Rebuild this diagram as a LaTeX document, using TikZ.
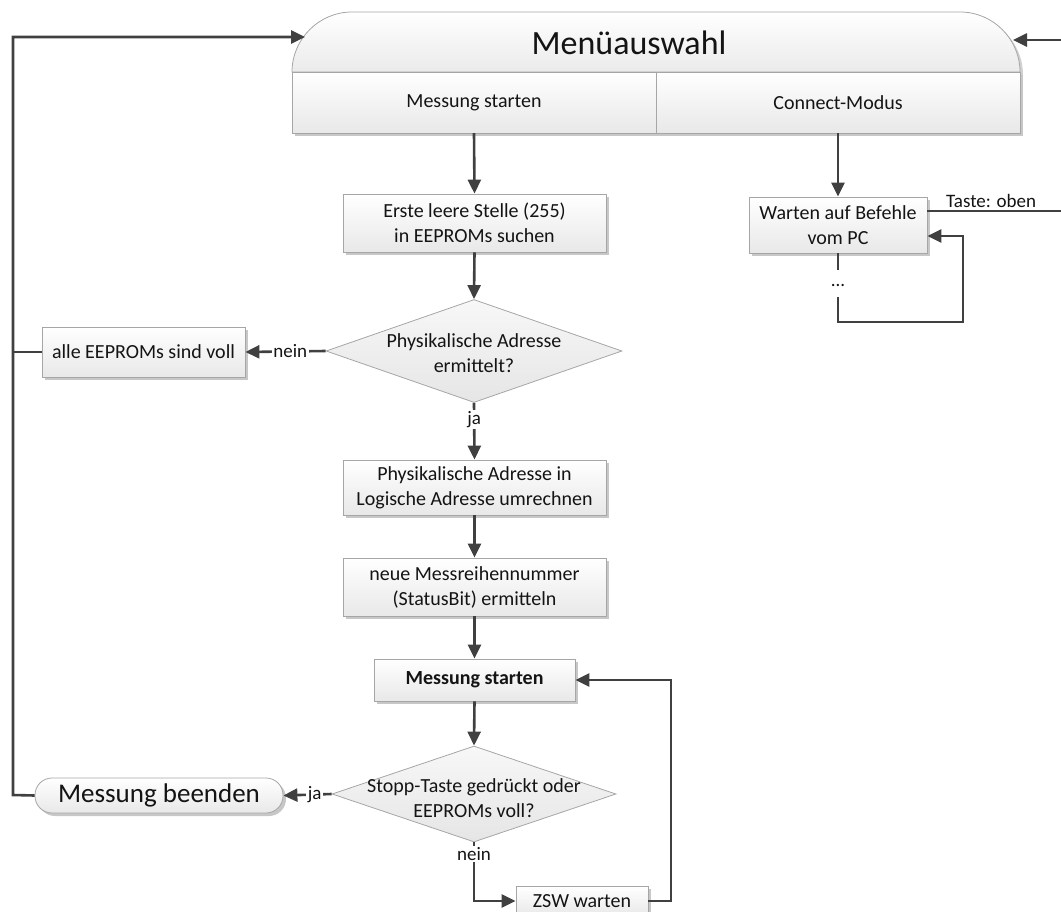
\documentclass[tikz,border=0pt]{standalone}
\usepackage{fontspec}
\setmainfont{Carlito}
\usetikzlibrary{arrows.meta,shapes.geometric,shadows}
\definecolor{linedark}{HTML}{404040}
\definecolor{boxedge}{HTML}{A6A6A6}
\definecolor{txt}{HTML}{141414}
\begin{document}
\begin{tikzpicture}[x=1pt,y=-1pt,
  every node/.style={text=txt, align=center, font=\fontsize{20}{25}\selectfont},
  box/.style={draw=boxedge, line width=0.8pt, top color=white, bottom color=black!9,
    drop shadow={shadow xshift=3pt, shadow yshift=-3pt, opacity=0.22, fill=black},
    inner sep=0pt},
  dec/.style={diamond, draw=boxedge, line width=0.8pt, top color=white!97!black,
    bottom color=black!10, inner sep=0pt},
  cell/.style={inner sep=0pt},
  flow/.style={draw=linedark, line width=2.6pt},
  arr/.style={flow, -{Triangle[length=14pt,width=13pt]}},
  lab/.style={fill=white, inner sep=1.5pt, font=\fontsize{19}{22}\selectfont},
]
\useasboundingbox (0,0) rectangle (1061,911);

% menu block: rounded header and two-cell lower band
\path[draw=boxedge, line width=0.8pt, top color=white, bottom color=black!8,
  drop shadow={shadow xshift=3pt, shadow yshift=-3pt, opacity=0.18, fill=black}]
  (292,72) .. controls (292,39) and (319,12) .. (352,12) -- (960,12)
  .. controls (993,12) and (1020,39) .. (1020,72) -- cycle;
\path[draw=boxedge, line width=0.8pt, top color=white, bottom color=black!9,
  drop shadow={shadow xshift=3pt, shadow yshift=-3pt, opacity=0.22, fill=black}]
  (292,72) rectangle (1020,133);
\draw[boxedge, line width=0.8pt] (656,72) -- (656,133);

\node[font=\fontsize{34}{40}\selectfont] (title) at (629,43) {Menüauswahl};
\node[cell, minimum width=364pt, minimum height=61pt] (mstart) at (474,102.5) {Messung starten};
\node[cell, minimum width=364pt, minimum height=61pt] (connect) at (838,102.5) {Connect-Modus};

% measurement branch
\node[box, minimum width=263pt, minimum height=58pt] (e1) at (474.5,223)
  {Erste leere Stelle (255)\\in EEPROMs suchen};
\node[dec, minimum width=296pt, minimum height=103pt] (d1) at (474,351) {};
\node (d1t) at (474,353) {Physikalische Adresse\\ermittelt?};
\node[box, minimum width=203pt, minimum height=50pt] (full) at (143.5,352)
  {alle EEPROMs sind voll};
\node[box, minimum width=263pt, minimum height=55pt] (conv) at (474.5,487.5)
  {Physikalische Adresse in\\Logische Adresse umrechnen};
\node[box, minimum width=263pt, minimum height=58pt] (neu) at (474.5,587)
  {neue Messreihennummer\\(StatusBit) ermitteln};
\node[box, minimum width=201pt, minimum height=42pt,
  font=\fontsize{20}{25}\selectfont\bfseries] (ms) at (474.5,680) {Messung starten};
\node[dec, minimum width=284pt, minimum height=96pt] (d2) at (474,794) {};
\node (d2t) at (474,798) {Stopp-Taste gedrückt oder\\EEPROMs voll?};
\node[box, rounded corners=17pt, minimum width=248pt, minimum height=35pt,
  font=\fontsize{27}{30}\selectfont] (stop) at (159,795.5) {Messung beenden};
\node[box, minimum width=132pt, minimum height=30pt] (zsw) at (582,901) {ZSW warten};

% connect branch
\node[box, minimum width=178pt, minimum height=56pt] (wait) at (838,225)
  {Warten auf Befehle\\vom PC};
\node[font=\fontsize{19}{22}\selectfont] (dots) at (838,285) {...};

% helper coordinates for routed connectors
\coordinate (mL) at (305,37);
\coordinate (mR) at (1013,40);
\coordinate (lt) at (13,37);
\coordinate (lb) at (13,795);
\coordinate (rt) at (1066,40);
\coordinate (rb) at (1066,211);
\coordinate (zc) at (671,680);
\coordinate (dA) at (838,270);
\coordinate (dB) at (838,297);
\coordinate (dC) at (838,322);
\coordinate (dD) at (963,322);

% main column
\draw[arr] (mstart.south) -- (e1.north);
\draw[arr] (e1.south) -- (d1.north);
\draw[arr] (d1.west) -- node[lab, pos=0.44] {nein} (full.east);
\draw[arr] (d1.south) -- node[lab, pos=0.29] {ja} (conv.north);
\draw[arr] (conv.south) -- (neu.north);
\draw[arr] (neu.south) -- (ms.north);
\draw[arr] (ms.south) -- (d2.north);
\draw[arr] (d2.west) -- node[lab, pos=0.35] {ja} (stop.east);
\draw[arr] (d2.south) |- node[lab, pos=0.1] {nein} (zsw.west);
\draw[arr] (zsw.east) -| (zc) -- (ms.east);

% return lines to the menu
\draw[flow] (full.west) -- (full.west -| lt);
\draw[arr] (stop.west) -- (lb) -- (lt) -- (mL);

% connect mode
\draw[arr] (connect.south) -- (wait.north);
\draw[flow] (wait.south) -- (dA);
\draw[arr] (dB) -- (dC) -- (dD) |- ([yshift=-11pt]wait.east);
\draw[arr] ([yshift=14pt]wait.east) --
  node[above=1pt, pos=0.46, inner sep=1pt, font=\fontsize{19}{22}\selectfont] {Taste: oben}
  (rb) -- (rt) -- (mR);
\end{tikzpicture}
\end{document}
